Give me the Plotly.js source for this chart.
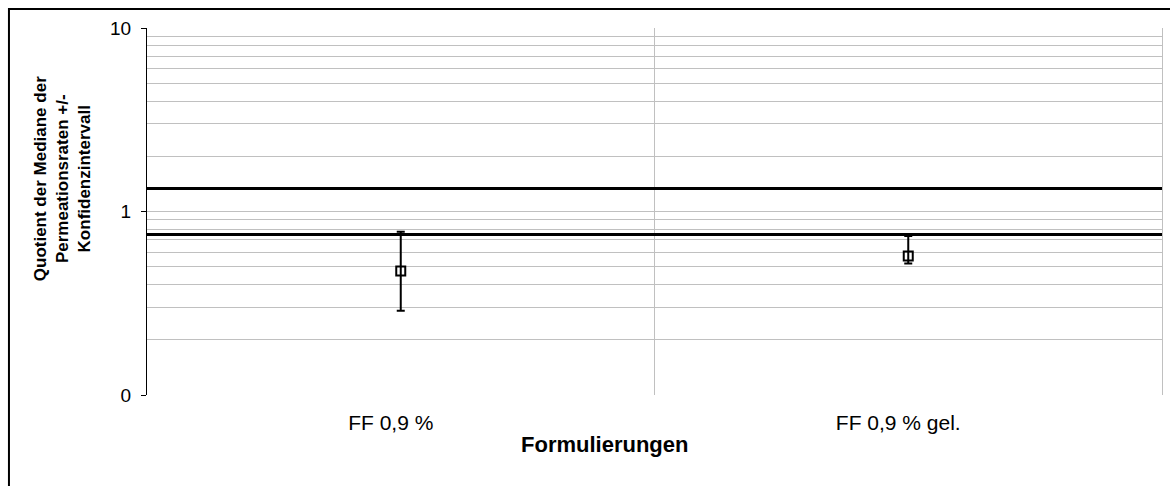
<!DOCTYPE html>
<html>
<head>
<meta charset="utf-8">
<script src="https://cdn.plot.ly/plotly-3.0.1.min.js"></script>
<style>html,body{margin:0;padding:0;background:#fff;}#chart{width:1170px;height:486px;}</style>
</head>
<body>
<div id="chart"></div>
<script>
// Data
const categories = ['FF 0,9 %', 'FF 0,9 % gel.'];
const medianRatio = [0.474, 0.573];
const upperCI = [0.776, 0.736];
const lowerCI = [0.2875, 0.52];
const limitLow = 0.75;
const limitHigh = 1.333;
const yTickVals = [0.1, 1, 10];
const yTickText = ['0', '1', '10'];
const yMinorVals = [0.2, 0.3, 0.4, 0.5, 0.6, 0.7, 0.8, 0.9, 2, 3, 4, 5, 6, 7, 8, 9];

const errPlus = upperCI.map((u, i) => u - medianRatio[i]);
const errMinus = lowerCI.map((l, i) => medianRatio[i] - l);

const font = 'Liberation Sans, Arial, sans-serif';

const traces = [
  {
    x: [0, 1], y: [limitHigh, limitHigh], xaxis: 'x2', yaxis: 'y2',
    mode: 'lines', line: {color: '#000', width: 3}, hoverinfo: 'skip', showlegend: false
  },
  {
    x: [0, 1], y: [limitLow, limitLow], xaxis: 'x2', yaxis: 'y2',
    mode: 'lines', line: {color: '#000', width: 3}, hoverinfo: 'skip', showlegend: false
  },
  {
    x: categories, y: medianRatio, type: 'scatter', mode: 'markers',
    marker: {symbol: 'square-open', size: 9, color: '#000', line: {width: 2, color: '#000'}},
    error_y: {type: 'data', symmetric: false, array: errPlus, arrayminus: errMinus,
      color: '#000', thickness: 2, width: 4},
    showlegend: false
  }
];

const layout = {
  width: 1170, height: 486,
  margin: {l: 147, r: 8, t: 28, b: 91},
  paper_bgcolor: '#fff', plot_bgcolor: '#fff',
  font: {family: font, color: '#000'},
  showlegend: false,
  xaxis: {
    type: 'category', range: [-0.5, 1.5], tickson: 'boundaries',
    showgrid: true, gridcolor: '#c0c0c0', gridwidth: 1,
    ticks: '', showline: false, zeroline: false,
    tickfont: {family: font, size: 21, color: '#000'},
    ticklabelstandoff: 13, ticklabelshift: -10
  },
  xaxis2: {
    overlaying: 'x', range: [0, 1], visible: false, fixedrange: true
  },
  yaxis: {
    type: 'log', range: [-1, 1],
    tickvals: yTickVals, ticktext: yTickText,
    ticks: 'outside', ticklen: 5, tickcolor: '#000', tickwidth: 1,
    showline: true, linecolor: '#000', linewidth: 1,
    showgrid: true, gridcolor: '#c0c0c0', gridwidth: 1, zeroline: false,
    tickfont: {family: font, size: 19, color: '#000'},
    ticklabelstandoff: 6,
    minor: {tickvals: yMinorVals, showgrid: true, gridcolor: '#c0c0c0', gridwidth: 1, ticks: ''}
  },
  yaxis2: {
    type: 'log', range: [-1, 1], overlaying: 'y', side: 'right',
    showline: true, linecolor: '#c0c0c0', linewidth: 1,
    showgrid: false, zeroline: false, showticklabels: false, ticks: '', fixedrange: true
  },
  annotations: [
    {
      text: '<b>Quotient der Mediane der<br>Permeationsraten +/-<br>Konfidenzintervall</b>',
      xref: 'paper', yref: 'paper', x: -0.083, y: 0.59,
      xanchor: 'center', yanchor: 'middle', textangle: -90, showarrow: false,
      font: {family: font, size: 17, color: '#000'}
    },
    {
      text: '<b>Formulierungen</b>',
      xref: 'paper', yref: 'paper', x: 0.451, y: -0.136,
      xanchor: 'center', yanchor: 'middle', showarrow: false,
      font: {family: font, size: 22, color: '#000'}
    }
  ],
  shapes: [
    {type: 'rect', xref: 'paper', yref: 'paper', x0: -0.136, x1: 1.1, y0: -0.4, y1: 1.0518,
      line: {color: '#000', width: 2}, fillcolor: 'rgba(0,0,0,0)', layer: 'above'}
  ]
};

Plotly.newPlot('chart', traces, layout, {displayModeBar: false, staticPlot: true});
</script>
</body>
</html>
